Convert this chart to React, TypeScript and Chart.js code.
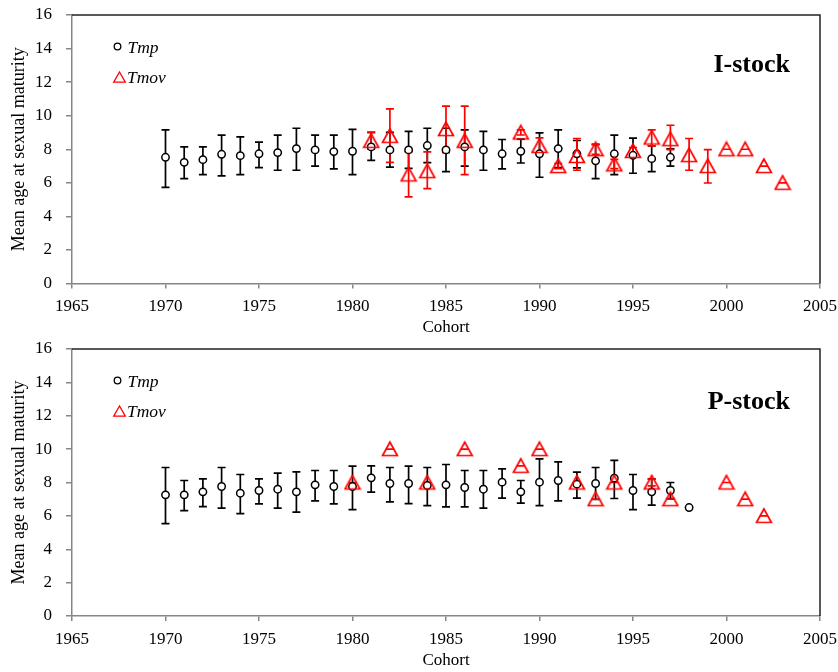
import React, { useEffect, useRef } from "react";
import { Chart, registerables } from "chart.js";

Chart.register(...registerables);

const FONT = "'Liberation Serif', 'Times New Roman', serif";

// ---------- I-stock ----------
const iTmpYears = [1970, 1971, 1972, 1973, 1974, 1975, 1976, 1977, 1978, 1979, 1980, 1981, 1982, 1983, 1984, 1985, 1986, 1987, 1988, 1989, 1990, 1991, 1992, 1993, 1994, 1995, 1996, 1997];
const iTmpMean = [7.52, 7.22, 7.38, 7.7, 7.62, 7.73, 7.8, 8.04, 7.96, 7.86, 7.88, 8.14, 7.96, 7.96, 8.22, 7.96, 8.14, 7.96, 7.73, 7.88, 7.73, 8.04, 7.73, 7.31, 7.73, 7.64, 7.44, 7.52];
const iTmpLow = [5.73, 6.25, 6.49, 6.41, 6.49, 6.91, 6.75, 6.75, 6.99, 6.83, 6.49, 7.34, 6.93, 6.86, 7.2, 6.67, 6.99, 6.75, 6.83, 7.18, 6.33, 6.9, 6.89, 6.25, 6.49, 6.57, 6.67, 6.99];
const iTmpHigh = [9.16, 8.14, 8.14, 8.84, 8.74, 8.42, 8.84, 9.25, 8.84, 8.84, 9.18, 9.0, 9.0, 9.06, 9.25, 9.25, 9.16, 9.06, 8.58, 8.6, 8.98, 9.16, 8.52, 8.28, 8.84, 8.66, 8.2, 8.02];

const iTmovYears = [1981, 1982, 1983, 1984, 1985, 1986, 1989, 1990, 1991, 1992, 1993, 1994, 1995, 1996, 1997, 1998, 1999, 2000, 2001, 2002, 2003];
const iTmovMean = [8.5, 8.8, 6.5, 6.7, 9.2, 8.5, 9.0, 8.2, 7.0, 7.6, 8.0, 7.1, 7.9, 8.7, 8.6, 7.65, 7.0, 8.0, 8.0, 7.0, 6.0];
const iTmovLow = [8.0, 7.22, 5.16, 5.65, 7.8, 6.49, 8.85, 7.8, 6.85, 6.75, 7.7, 6.85, 7.7, 8.2, 7.98, 6.75, 5.99, 8.0, 8.0, 7.0, 6.0];
const iTmovHigh = [9.0, 10.41, 7.84, 7.84, 10.57, 10.57, 9.15, 8.68, 7.15, 8.64, 8.3, 7.4, 8.1, 9.16, 9.43, 8.64, 7.98, 8.0, 8.0, 7.0, 6.0];

// ---------- P-stock ----------
const pTmpYears = [1970, 1971, 1972, 1973, 1974, 1975, 1976, 1977, 1978, 1979, 1980, 1981, 1982, 1983, 1984, 1985, 1986, 1987, 1988, 1989, 1990, 1991, 1992, 1993, 1994, 1995, 1996, 1997, 1998];
const pTmpMean = [7.26, 7.26, 7.44, 7.76, 7.36, 7.52, 7.6, 7.44, 7.86, 7.76, 7.76, 8.28, 7.94, 7.94, 7.82, 7.86, 7.7, 7.6, 8.02, 7.44, 8.02, 8.12, 7.9, 7.94, 8.26, 7.52, 7.44, 7.52, 6.5];
const pTmpLow = [5.54, 6.32, 6.56, 6.46, 6.14, 6.72, 6.46, 6.22, 6.9, 6.72, 6.38, 7.42, 6.84, 6.74, 6.62, 6.54, 6.54, 6.46, 7.06, 6.76, 6.62, 6.9, 7.06, 6.98, 7.04, 6.38, 6.64, 7.04, null];
const pTmpHigh = [8.9, 8.12, 8.22, 8.9, 8.48, 8.22, 8.56, 8.64, 8.72, 8.72, 8.98, 9.0, 8.9, 8.98, 8.9, 9.08, 8.72, 8.72, 8.82, 8.12, 9.42, 9.24, 8.62, 8.9, 9.32, 8.48, 8.22, 8.0, null];

const pTmovYears = [1980, 1982, 1984, 1986, 1989, 1990, 1992, 1993, 1994, 1996, 1997, 2000, 2001, 2002];
const pTmovMean = [8, 10, 8, 10, 9, 10, 8, 7, 8, 8, 7, 8, 7, 6];
const pTmovLow = [8, 10, 8, 10, 9, 10, 8, 7, 8, 7.8, 7, 8, 7, 6];
const pTmovHigh = [8, 10, 8, 10, 9, 10, 8, 7, 8, 8.2, 7, 8, 7, 6];

// ---------- axes ----------
const xMin = 1965;
const xMax = 2005;
const xStep = 5;
const yMin = 0;
const yMax = 16;
const yStep = 2;
const xTitle = "Cohort";
const yTitle = "Mean age at sexual maturity";
const seriesNames = ["Tmp", "Tmov"];

const RED = "#FF0000";
const AXIS_GRAY = "#868686";

function makeTriangle(): HTMLCanvasElement {
  const c = document.createElement("canvas");
  c.width = 18;
  c.height = 18;
  const g = c.getContext("2d")!;
  g.strokeStyle = RED;
  g.lineWidth = 1.7;
  g.lineJoin = "miter";
  g.beginPath();
  g.moveTo(9, 2);
  g.lineTo(1.6, 15.5);
  g.lineTo(16.4, 15.5);
  g.closePath();
  g.stroke();
  return c;
}

type Series = { years: number[]; mean: number[]; low: (number | null)[]; high: (number | null)[] };

type PanelProps = {
  tmp: Series;
  tmov: Series;
  label: string;
  height: number;
  xAxisH: number;
  titlePad: number;
  labelBase: number;
};

function Panel({ tmp, tmov, label, height, xAxisH, titlePad, labelBase }: PanelProps) {
  const ref = useRef<HTMLCanvasElement>(null);
  useEffect(() => {
    const tri = makeTriangle();
    const errSeries = [
      { s: tmp, color: "#000000" },
      { s: tmov, color: RED },
    ];
    const errPlugin = {
      id: "errbars",
      beforeDatasetsDraw(chart: any) {
        const { ctx, scales } = chart;
        const x = scales.x, y = scales.y;
        errSeries.forEach(({ s, color }) => {
          ctx.save();
          ctx.strokeStyle = color;
          ctx.lineWidth = 1.7;
          s.years.forEach((yr, i) => {
            const lo = s.low[i], hi = s.high[i];
            if (lo == null || hi == null) return;
            const px = x.getPixelForValue(yr);
            const y1 = y.getPixelForValue(lo);
            const y2 = y.getPixelForValue(hi);
            const cap = 4;
            ctx.beginPath();
            ctx.moveTo(px, y1);
            ctx.lineTo(px, y2);
            ctx.moveTo(px - cap, y1);
            ctx.lineTo(px + cap, y1);
            ctx.moveTo(px - cap, y2);
            ctx.lineTo(px + cap, y2);
            ctx.stroke();
          });
          ctx.restore();
        });
      },
    };
    const framePlugin = {
      id: "frame",
      afterDraw(chart: any) {
        const { ctx, chartArea: ca } = chart;
        ctx.save();
        ctx.strokeStyle = "#222222";
        ctx.lineWidth = 1.5;
        ctx.beginPath();
        ctx.moveTo(ca.left, ca.top);
        ctx.lineTo(ca.right, ca.top);
        ctx.lineTo(ca.right, ca.bottom);
        ctx.stroke();

        // legend
        ctx.fillStyle = "#000";
        ctx.font = `italic 17.5px ${FONT}`;
        ctx.textBaseline = "alphabetic";
        ctx.textAlign = "left";
        ctx.strokeStyle = "#000";
        ctx.lineWidth = 1.3;
        ctx.beginPath();
        ctx.arc(ca.left + 45.5, ca.top + 31.5, 3.3, 0, Math.PI * 2);
        ctx.stroke();
        ctx.fillText(seriesNames[0], ca.left + 55.5, ca.top + 38);
        const tx = ca.left + 47.5, ty = ca.top + 62.3;
        ctx.strokeStyle = RED;
        ctx.beginPath();
        ctx.moveTo(tx, ty - 5.3);
        ctx.lineTo(tx - 5.8, ty + 4.8);
        ctx.lineTo(tx + 5.8, ty + 4.8);
        ctx.closePath();
        ctx.stroke();
        ctx.fillText(seriesNames[1], ca.left + 55, ca.top + 68);

        // panel label
        ctx.font = `bold 26px ${FONT}`;
        ctx.textAlign = "right";
        ctx.fillText(label, ca.right - 30, ca.top + labelBase);
        ctx.restore();
      },
    };

    const chart = new Chart(ref.current!, {
      type: "scatter",
      data: {
        datasets: [
          {
            label: seriesNames[1],
            data: tmov.years.map((yr, i) => ({ x: yr, y: tmov.mean[i] })),
            pointStyle: tri as any,
            pointRadius: 9,
            borderColor: RED,
            backgroundColor: "rgba(0,0,0,0)",
            order: 0,
          },
          {
            label: seriesNames[0],
            data: tmp.years.map((yr, i) => ({ x: yr, y: tmp.mean[i] })),
            pointStyle: "circle",
            pointRadius: 3.7,
            borderWidth: 1.5,
            borderColor: "#000000",
            backgroundColor: "#FFFFFF",
            order: 1,
          },
        ],
      },
      options: {
        animation: false,
        responsive: true,
        maintainAspectRatio: false,
        events: [],
        layout: { padding: { top: 15, right: 18, left: 0, bottom: 0 } },
        plugins: { legend: { display: false }, tooltip: { enabled: false } },
        scales: {
          x: {
            type: "linear",
            min: xMin,
            max: xMax,
            afterFit: (s: any) => {
              s.height = xAxisH;
              s.paddingLeft = 0;
              s.paddingRight = 0;
              s.paddingTop = 0;
              s.paddingBottom = 0;
            },
            ticks: {
              stepSize: xStep,
              color: "#000",
              padding: 8,
              font: { family: FONT, size: 17 },
              callback: (v: any) => String(v),
            },
            grid: {
              drawOnChartArea: false,
              drawTicks: true,
              tickLength: 5,
              color: AXIS_GRAY,
              lineWidth: 1.5,
            },
            border: { color: AXIS_GRAY, width: 1.5 },
            title: {
              display: true,
              text: xTitle,
              color: "#000",
              font: { family: FONT, size: 17, lineHeight: 1 },
              padding: { top: 0, bottom: titlePad },
            },
          },
          y: {
            type: "linear",
            min: yMin,
            max: yMax,
            afterFit: (s: any) => {
              s.width = 72;
              s.paddingLeft = 0;
              s.paddingRight = 0;
              s.paddingTop = 0;
              s.paddingBottom = 0;
            },
            ticks: {
              stepSize: yStep,
              color: "#000",
              padding: 14,
              font: { family: FONT, size: 17 },
            },
            grid: {
              drawOnChartArea: false,
              drawTicks: true,
              tickLength: 6,
              color: AXIS_GRAY,
              lineWidth: 1.5,
            },
            border: { color: AXIS_GRAY, width: 1.5 },
            title: {
              display: true,
              text: yTitle,
              color: "#000",
              font: { family: FONT, size: 18, lineHeight: 1 },
              padding: { top: 10, bottom: 0 },
            },
          },
        },
      },
      plugins: [errPlugin, framePlugin],
    });
    return () => chart.destroy();
  }, []);
  return (
    <div style={{ position: "relative", width: 838, height }}>
      <canvas ref={ref} />
    </div>
  );
}

export default function App() {
  return (
    <div style={{ position: "absolute", left: 0, top: 0, width: 838, height: 672, background: "#fff" }}>
      <Panel
        tmp={{ years: iTmpYears, mean: iTmpMean, low: iTmpLow, high: iTmpHigh }}
        tmov={{ years: iTmovYears, mean: iTmovMean, low: iTmovLow, high: iTmovHigh }}
        label="I-stock"
        height={334}
        xAxisH={50.5}
        titlePad={-2}
        labelBase={57.4}
      />
      <Panel
        tmp={{ years: pTmpYears, mean: pTmpMean, low: pTmpLow, high: pTmpHigh }}
        tmov={{ years: pTmovYears, mean: pTmovMean, low: pTmovLow, high: pTmovHigh }}
        label="P-stock"
        height={338}
        xAxisH={56}
        titlePad={2.5}
        labelBase={60}
      />
    </div>
  );
}
